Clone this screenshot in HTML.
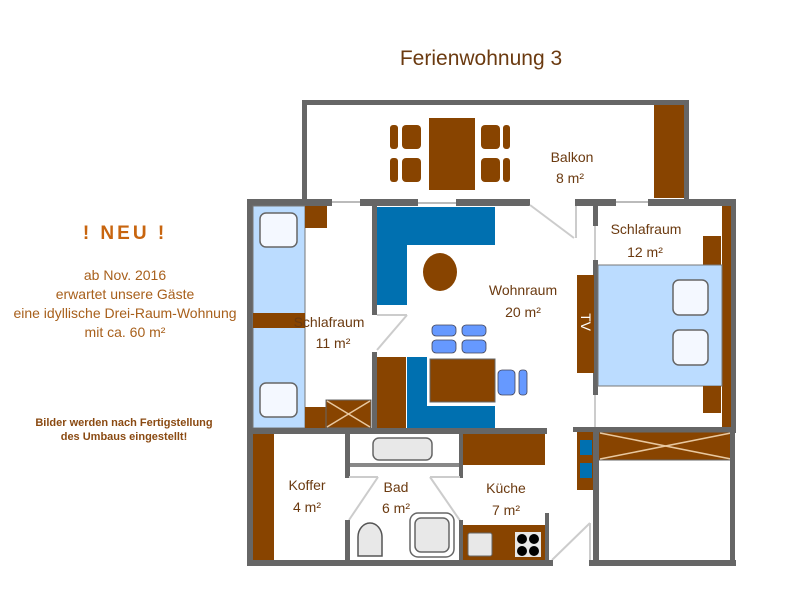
<!DOCTYPE html>
<html><head><meta charset="utf-8"><style>
html,body{margin:0;padding:0;background:#fff;}
svg{display:block;font-family:"Liberation Sans",sans-serif;}
</style></head><body>
<svg width="800" height="600" viewBox="0 0 800 600" xmlns="http://www.w3.org/2000/svg">
<rect width="800" height="600" fill="#fff"/>
<text x="481" y="65" font-size="21" fill="#6b3a10" text-anchor="middle">Ferienwohnung 3</text>

<!-- left text -->
<text x="125" y="239" font-size="19" font-weight="bold" fill="#c8650f" text-anchor="middle" letter-spacing="3">! NEU !</text>
<g font-size="14" fill="#a8601c" text-anchor="middle">
<text x="125" y="280">ab Nov. 2016</text>
<text x="125" y="299">erwartet unsere Gäste</text>
<text x="125" y="318">eine idyllische Drei-Raum-Wohnung</text>
<text x="125" y="337">mit ca. 60 m²</text>
</g>
<g font-size="11" font-weight="bold" fill="#8a4a12" text-anchor="middle">
<text x="124" y="426">Bilder werden  nach Fertigstellung</text>
<text x="124" y="440">des Umbaus eingestellt!</text>
</g>

<!-- Balcony -->
<rect x="302" y="100" width="386" height="5" fill="#666"/>
<rect x="302" y="100" width="5" height="103" fill="#666"/>
<rect x="684" y="100" width="5" height="103" fill="#666"/>
<rect x="654" y="105" width="30" height="93" fill="#884400"/>
<rect x="429" y="118" width="46" height="72" fill="#884400"/>
<g fill="#884400">
<rect x="390" y="125" width="8" height="24" rx="3"/><rect x="402" y="125" width="19" height="24" rx="4"/>
<rect x="390" y="158" width="8" height="24" rx="3"/><rect x="402" y="158" width="19" height="24" rx="4"/>
<rect x="481" y="125" width="19" height="24" rx="4"/><rect x="503" y="125" width="7" height="24" rx="3"/>
<rect x="481" y="158" width="19" height="24" rx="4"/><rect x="503" y="158" width="7" height="24" rx="3"/>
</g>
<text x="572" y="162" font-size="14" fill="#6b3a10" text-anchor="middle">Balkon</text>
<text x="570" y="183" font-size="14" fill="#6b3a10" text-anchor="middle">8 m²</text>

<!-- top wall of main -->
<rect x="247" y="199" width="85" height="7" fill="#666"/>
<line x1="332" y1="202" x2="360" y2="202" stroke="#bbb" stroke-width="2"/>
<rect x="360" y="199" width="58" height="7" fill="#666"/>
<line x1="418" y1="203" x2="456" y2="203" stroke="#bbb" stroke-width="2"/>
<rect x="456" y="199" width="74" height="7" fill="#666"/>
<line x1="530" y1="205" x2="574" y2="238" stroke="#ccc" stroke-width="2"/>
<line x1="576" y1="206" x2="576" y2="238" stroke="#ccc" stroke-width="2"/>
<rect x="575" y="199" width="41" height="7" fill="#666"/>
<line x1="616" y1="202" x2="648" y2="202" stroke="#bbb" stroke-width="2"/>
<rect x="648" y="199" width="88" height="7" fill="#666"/>
<!-- outer left/right -->
<rect x="247" y="199" width="6" height="367" fill="#666"/>
<rect x="730" y="199" width="6" height="234" fill="#666"/>
<rect x="722" y="206" width="9" height="224" fill="#884400"/>

<!-- left bedroom -->
<rect x="253" y="206" width="52" height="222" fill="#bbdcff" stroke="#777" stroke-width="1"/>
<rect x="260" y="213" width="37" height="34" rx="6" fill="#f4f8ff" stroke="#666" stroke-width="1.5"/>
<rect x="260" y="383" width="37" height="34" rx="6" fill="#f4f8ff" stroke="#666" stroke-width="1.5"/>
<rect x="253" y="313" width="52" height="15" fill="#884400"/>
<rect x="305" y="206" width="22" height="22" fill="#884400"/>
<rect x="305" y="407" width="21" height="21" fill="#884400"/>
<rect x="326" y="400" width="45" height="28" fill="#884400" stroke="#666" stroke-width="1"/>
<line x1="327" y1="401" x2="370" y2="427" stroke="#e8c8a0" stroke-width="1.5"/>
<line x1="370" y1="401" x2="327" y2="427" stroke="#e8c8a0" stroke-width="1.5"/>
<text x="329" y="327" font-size="14" fill="#6b3a10" text-anchor="middle">Schlafraum</text>
<text x="333" y="348" font-size="14" fill="#6b3a10" text-anchor="middle">11 m²</text>

<!-- inner wall bedroom/living -->
<rect x="372" y="206" width="5" height="109" fill="#666"/>
<line x1="377" y1="315" x2="407" y2="315" stroke="#ccc" stroke-width="2"/>
<line x1="407" y1="315" x2="377" y2="350" stroke="#ccc" stroke-width="2"/>
<rect x="372" y="352" width="5" height="78" fill="#666"/>

<!-- living -->
<rect x="377" y="207" width="30" height="98" fill="#0070b0"/>
<rect x="407" y="207" width="88" height="38" fill="#0070b0"/>
<ellipse cx="440" cy="272" rx="17" ry="19" fill="#884400"/>
<g fill="#6699ff" stroke="#445" stroke-width="0.8">
<rect x="432" y="325" width="24" height="11" rx="4"/><rect x="462" y="325" width="24" height="11" rx="4"/>
<rect x="432" y="340" width="24" height="13" rx="4"/><rect x="462" y="340" width="24" height="13" rx="4"/>
<rect x="498" y="370" width="17" height="25" rx="4"/><rect x="519" y="370" width="8" height="25" rx="3"/>
</g>
<rect x="430" y="359" width="65" height="43" fill="#884400" stroke="#666" stroke-width="1"/>
<rect x="377" y="357" width="29" height="71" fill="#884400"/>
<rect x="407" y="357" width="20" height="71" fill="#0070b0"/>
<rect x="427" y="406" width="68" height="22" fill="#0070b0"/>
<text x="523" y="295" font-size="14" fill="#6b3a10" text-anchor="middle">Wohnraum</text>
<text x="523" y="317" font-size="14" fill="#6b3a10" text-anchor="middle">20 m²</text>

<!-- right wall of living -->
<rect x="593" y="199" width="5" height="27" fill="#666"/>
<line x1="595" y1="226" x2="595" y2="260" stroke="#ccc" stroke-width="2"/>
<rect x="593" y="260" width="5" height="135" fill="#666"/>
<line x1="595" y1="395" x2="595" y2="428" stroke="#ccc" stroke-width="2"/>
<rect x="577" y="275" width="17" height="98" fill="#884400"/>
<text transform="translate(581,322) rotate(90)" font-size="14" fill="#fff" text-anchor="middle">TV</text>

<!-- right bedroom -->
<text x="646" y="234" font-size="14" fill="#6b3a10" text-anchor="middle">Schlafraum</text>
<text x="645" y="257" font-size="14" fill="#6b3a10" text-anchor="middle">12 m²</text>
<rect x="703" y="236" width="18" height="30" fill="#884400"/>
<rect x="598" y="265" width="124" height="121" fill="#bbdcff" stroke="#777" stroke-width="1"/>
<rect x="673" y="280" width="35" height="35" rx="6" fill="#f4f8ff" stroke="#666" stroke-width="1.5"/>
<rect x="673" y="330" width="35" height="35" rx="6" fill="#f4f8ff" stroke="#666" stroke-width="1.5"/>
<rect x="703" y="386" width="18" height="27" fill="#884400"/>

<!-- right lower -->
<rect x="573" y="427" width="163" height="5" fill="#666"/>
<rect x="598" y="432" width="134" height="28" fill="#884400" stroke="#666" stroke-width="1"/>
<line x1="600" y1="433" x2="731" y2="459" stroke="#e8c8a0" stroke-width="1.5"/>
<line x1="731" y1="433" x2="600" y2="459" stroke="#e8c8a0" stroke-width="1.5"/>
<rect x="593" y="430" width="6" height="136" fill="#666"/>
<rect x="730" y="432" width="5" height="134" fill="#666"/>
<rect x="577" y="432" width="16" height="58" fill="#884400"/>
<rect x="580" y="440" width="12" height="15" fill="#0070b0"/>
<rect x="580" y="463" width="12" height="15" fill="#0070b0"/>

<!-- horizontal wall middle -->
<rect x="247" y="428" width="300" height="6" fill="#666"/>
<rect x="463" y="434" width="82" height="31" fill="#884400"/>

<!-- Koffer -->
<rect x="253" y="434" width="21" height="126" fill="#884400"/>
<text x="307" y="490" font-size="14" fill="#6b3a10" text-anchor="middle">Koffer</text>
<text x="307" y="512" font-size="14" fill="#6b3a10" text-anchor="middle">4 m²</text>
<rect x="345" y="434" width="5" height="44" fill="#666"/>
<line x1="349" y1="477" x2="378" y2="477" stroke="#ccc" stroke-width="2"/>
<line x1="378" y1="477" x2="349" y2="520" stroke="#ccc" stroke-width="2"/>
<rect x="345" y="520" width="5" height="46" fill="#666"/>

<!-- Bad -->
<rect x="350" y="463" width="110" height="4" fill="#888"/>
<rect x="373" y="438" width="59" height="22" rx="6" fill="#e8e8e8" stroke="#666" stroke-width="1.5"/>
<rect x="459" y="434" width="4" height="44" fill="#666"/>
<line x1="430" y1="477" x2="460" y2="477" stroke="#ccc" stroke-width="2"/>
<line x1="430" y1="477" x2="461" y2="522" stroke="#ccc" stroke-width="2"/>
<rect x="459" y="520" width="4" height="46" fill="#666"/>
<text x="396" y="492" font-size="14" fill="#6b3a10" text-anchor="middle">Bad</text>
<text x="396" y="513" font-size="14" fill="#6b3a10" text-anchor="middle">6 m²</text>
<path d="M358 556 V537 A12 14 0 0 1 382 537 V556 Z" fill="#e8e8e8" stroke="#555" stroke-width="1.5"/>
<rect x="410" y="513" width="44" height="44" rx="8" fill="#fff" stroke="#666" stroke-width="1.5"/>
<rect x="415" y="518" width="34" height="34" rx="6" fill="#e8e8e8" stroke="#666" stroke-width="1.5"/>

<!-- Kitchen -->
<text x="506" y="493" font-size="14" fill="#6b3a10" text-anchor="middle">Küche</text>
<text x="506" y="515" font-size="14" fill="#6b3a10" text-anchor="middle">7 m²</text>
<rect x="463" y="525" width="82" height="35" fill="#884400"/>
<rect x="545" y="513" width="4" height="53" fill="#666"/>
<rect x="468" y="533" width="24" height="23" rx="2" fill="#e8e8e8" stroke="#666" stroke-width="1"/>
<rect x="515" y="532" width="26" height="25" fill="#e8e8e8"/>
<g fill="#000"><circle cx="522" cy="539" r="5"/><circle cx="534" cy="539" r="5"/><circle cx="522" cy="551" r="5"/><circle cx="534" cy="551" r="5"/></g>
<line x1="552" y1="560" x2="590" y2="523" stroke="#ccc" stroke-width="2"/>
<line x1="590" y1="523" x2="590" y2="560" stroke="#ccc" stroke-width="2"/>

<!-- bottom wall -->
<rect x="247" y="560" width="306" height="6" fill="#666"/>
<rect x="589" y="560" width="147" height="6" fill="#666"/>
</svg>
</body></html>
